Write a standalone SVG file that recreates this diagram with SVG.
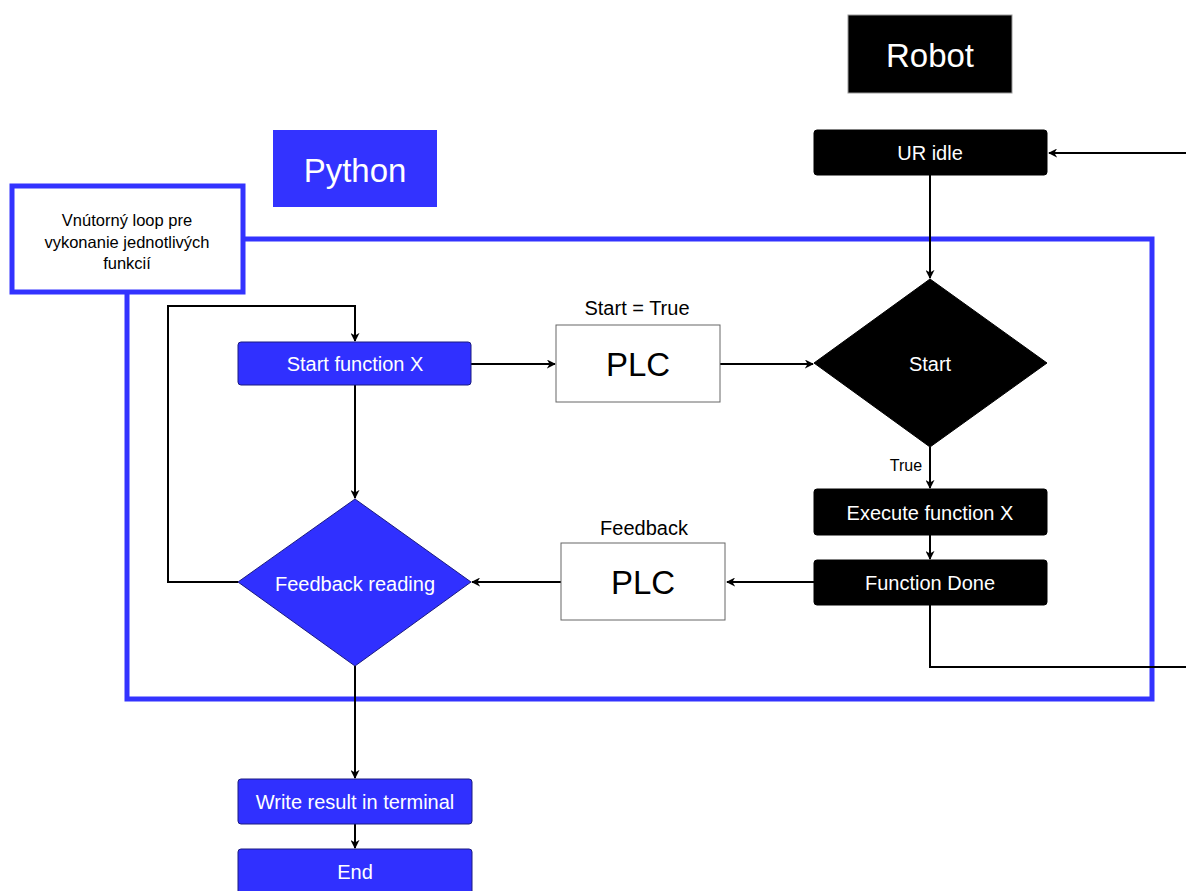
<svg xmlns="http://www.w3.org/2000/svg" width="1186" height="891" viewBox="0 0 1186 891">
  <style>
    text { font-family: "Liberation Sans", Arial, sans-serif; text-anchor: middle; dominant-baseline: central; }
    .blue { fill: #3030FF; stroke: #1a1a80; stroke-width: 1; }
    .black { fill: #000; stroke: #000; stroke-width: 1; }
    .plc { fill: #fff; stroke: #666; stroke-width: 1; }
    .wt { fill: #fff; }
    .bt { fill: #000; }
    .edge { fill: none; stroke: #000; stroke-width: 2; }
  </style>
  <defs>
    <marker id="arrow" viewBox="0 0 10 10" refX="9" refY="5" markerWidth="9" markerHeight="9" markerUnits="userSpaceOnUse" orient="auto">
      <path d="M0,0 L10,5 L0,10 L3,5 z" fill="#000"/>
    </marker>
  </defs>
  <rect width="1186" height="891" fill="#fff"/>

  <!-- inner loop frame -->
  <rect x="127" y="239" width="1025" height="460" fill="none" stroke="#3333FF" stroke-width="5"/>

  <g id="robot-title">
    <rect x="848" y="15" width="164" height="78" fill="#000" stroke="#999" stroke-width="1"/>
    <text x="930" y="55" class="wt" font-size="33">Robot</text>
  </g>
  <g id="python-title">
    <rect x="273" y="130" width="164" height="77" fill="#3333FF"/>
    <text x="355" y="170" class="wt" font-size="33">Python</text>
  </g>
  <g id="loop-label">
    <rect x="12" y="186" width="231" height="106" fill="#fff" stroke="#3333FF" stroke-width="5"/>
    <text x="127" y="220" class="bt" font-size="16.5">Vnútorný loop pre</text>
    <text x="127" y="242" class="bt" font-size="16.5">vykonanie jednotlivých</text>
    <text x="127" y="263" class="bt" font-size="16.5">funkcií</text>
  </g>

  <g id="connectors">
    <path class="edge" d="M1186,153 H1049" marker-end="url(#arrow)"/>
    <path class="edge" d="M930,175 V278" marker-end="url(#arrow)"/>
    <path class="edge" d="M930,447 V488" marker-end="url(#arrow)"/>
    <path class="edge" d="M930,535 V559" marker-end="url(#arrow)"/>
    <path class="edge" d="M930,605 V667 H1186"/>
    <path class="edge" d="M814,582 H727" marker-end="url(#arrow)"/>
    <path class="edge" d="M561,582 H472" marker-end="url(#arrow)"/>
    <path class="edge" d="M471,364 H555" marker-end="url(#arrow)"/>
    <path class="edge" d="M720,364 H813" marker-end="url(#arrow)"/>
    <path class="edge" d="M355,385 V498" marker-end="url(#arrow)"/>
    <path class="edge" d="M238,582 H168 V306 H355 V341" marker-end="url(#arrow)"/>
    <path class="edge" d="M355,666 V778" marker-end="url(#arrow)"/>
    <path class="edge" d="M355,824 V848" marker-end="url(#arrow)"/>
    <text x="906" y="465" class="bt" font-size="16">True</text>
  </g>

  <g id="ur-idle">
    <rect x="814" y="130" width="233" height="45" rx="3" class="black"/>
    <text x="930" y="153" class="wt" font-size="20">UR idle</text>
  </g>
  <g id="start-decision">
    <polygon points="930,279 1047,363 930,447 814,363" class="black"/>
    <text x="930" y="364" class="wt" font-size="20">Start</text>
  </g>
  <g id="execute-function">
    <rect x="814" y="489" width="233" height="46" rx="3" class="black"/>
    <text x="930" y="513" class="wt" font-size="20">Execute function X</text>
  </g>
  <g id="function-done">
    <rect x="814" y="560" width="233" height="45" rx="3" class="black"/>
    <text x="930" y="583" class="wt" font-size="20">Function Done</text>
  </g>
  <g id="plc-start">
    <text x="637" y="308" class="bt" font-size="20">Start = True</text>
    <rect x="556" y="325" width="164" height="77" class="plc"/>
    <text x="638" y="364" class="bt" font-size="33">PLC</text>
  </g>
  <g id="plc-feedback">
    <text x="644" y="528" class="bt" font-size="20">Feedback</text>
    <rect x="561" y="543" width="164" height="77" class="plc"/>
    <text x="643" y="582" class="bt" font-size="33">PLC</text>
  </g>
  <g id="start-function">
    <rect x="238" y="342" width="233" height="43" rx="3" class="blue"/>
    <text x="355" y="364" class="wt" font-size="20">Start function X</text>
  </g>
  <g id="feedback-reading">
    <polygon points="355,499 471,582 355,666 238,582" class="blue"/>
    <text x="355" y="584" class="wt" font-size="20">Feedback reading</text>
  </g>
  <g id="write-result">
    <rect x="238" y="779" width="234" height="45" rx="3" class="blue"/>
    <text x="355" y="802" class="wt" font-size="20">Write result in terminal</text>
  </g>
  <g id="end">
    <rect x="238" y="849" width="234" height="50" rx="3" class="blue"/>
    <text x="355" y="872" class="wt" font-size="20">End</text>
  </g>
</svg>
